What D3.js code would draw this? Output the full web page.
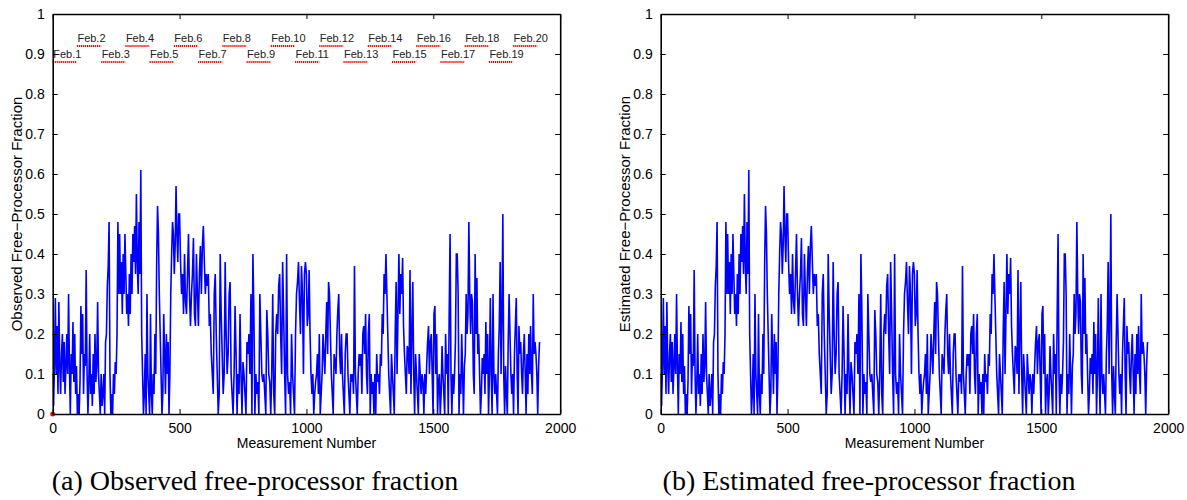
<!DOCTYPE html>
<html>
<head>
<meta charset="utf-8">
<script src="https://cdn.jsdelivr.net/npm/d3@7"></script>
<style>
  body { margin: 0; background: #fff; }
  svg text { font-family: "Liberation Sans", Arial, Helvetica, sans-serif; fill: #000; }
  .caption { font-family: "Liberation Serif", "Times New Roman", serif; font-size: 28px; }
  .tick text { font-size: 14px; }
</style>
</head>
<body>
<div class="chart"></div>
<script>
var seg1 = [0.1, 0.02, 0.12, 0.29, 0.1, 0.22, 0.05, 0.28, 0.12, 0.05, 0.15, 0.2, 0.08, 0.18, 0.05, 0.12, 0.2, 0.1, 0.3, 0.12,
  0.0, 0.15, 0.1, 0.23, 0.08, 0.2, 0.05, 0.12, 0.0, 0.05, 0.0, 0.08, 0.27, 0.15, 0.25, 0.05, 0.15, 0.12, 0.36, 0.1,
  0.0, 0.08, 0.2, 0.05, 0.1, 0.02, 0.15, 0.05, 0.2, 0.08, 0.12, 0.28, 0.1, 0.05, 0.0, 0.1, 0.02, 0.05, 0.1, 0.0,
  0.18, 0.2, 0.32, 0.37, 0.48, 0.1, 0.0, 0.05, 0.0, 0.1, 0.05, 0.13, 0.1, 0.2, 0.48, 0.3, 0.45, 0.3, 0.38, 0.25,
  0.4, 0.3, 0.45, 0.35, 0.25, 0.3, 0.22, 0.35, 0.25, 0.4, 0.3, 0.45, 0.38, 0.47, 0.35, 0.55, 0.38, 0.3, 0.48, 0.35,
  0.61, 0.2, 0.1, 0.0, 0.05, 0.15, 0.0, 0.3, 0.1, 0.05, 0.0, 0.25, 0.05, 0.0, 0.1, 0.05, 0.2, 0.1, 0.38, 0.52,
  0.45, 0.3, 0.2, 0.1, 0.0, 0.05, 0.25, 0.15, 0.05, 0.2, 0.1, 0.18, 0.0, 0.1, 0.3, 0.4, 0.48, 0.45, 0.35, 0.42,
  0.57, 0.45, 0.38, 0.5];
var seg2 = [0.5, 0.38, 0.3, 0.35, 0.25, 0.4, 0.28, 0.25, 0.35, 0.45, 0.3, 0.22, 0.3, 0.35, 0.44, 0.25, 0.22, 0.4, 0.3, 0.22,
  0.35, 0.42, 0.3, 0.42, 0.47, 0.38, 0.3, 0.35, 0.32, 0.35, 0.22, 0.25, 0.15, 0.1, 0.05, 0.3, 0.35, 0.2, 0.1, 0.0,
  0.05, 0.4, 0.25, 0.15, 0.05, 0.1, 0.38, 0.2, 0.1, 0.15, 0.3, 0.33, 0.1, 0.05, 0.0, 0.1, 0.27, 0.15, 0.0, 0.1,
  0.05, 0.25, 0.1, 0.0, 0.13, 0.1, 0.05, 0.0, 0.18, 0.15, 0.2, 0.1, 0.3, 0.0, 0.4, 0.25, 0.0, 0.1, 0.05, 0.08,
  0.0, 0.3, 0.2, 0.1, 0.08, 0.1, 0.05, 0.0, 0.26, 0.2, 0.1, 0.08, 0.0, 0.1, 0.3, 0.05, 0.0, 0.2, 0.25, 0.2,
  0.32, 0.35, 0.2, 0.1, 0.38, 0.25, 0.1, 0.0, 0.4, 0.1, 0.05, 0.08, 0.0, 0.2, 0.1, 0.05, 0.0, 0.2, 0.3, 0.33,
  0.38, 0.28, 0.2, 0.37, 0.3, 0.1, 0.35];
var seg3 = [0.38, 0.35, 0.22, 0.25, 0.36, 0.2, 0.1, 0.05, 0.1, 0.0, 0.05, 0.08, 0.1, 0.15, 0.05, 0.2, 0.0, 0.05, 0.1, 0.2,
  0.15, 0.1, 0.2, 0.28, 0.15, 0.33, 0.3, 0.2, 0.1, 0.05, 0.0, 0.15, 0.13, 0.1, 0.2, 0.26, 0.3, 0.15, 0.1, 0.2,
  0.1, 0.05, 0.0, 0.15, 0.2, 0.2, 0.1, 0.05, 0.0, 0.1, 0.08, 0.1, 0.05, 0.37, 0.1, 0.05, 0.0, 0.1, 0.15, 0.12,
  0.15, 0.05, 0.2, 0.22, 0.15, 0.25, 0.1, 0.05, 0.2, 0.25, 0.0, 0.1, 0.05, 0.08, 0.0, 0.1, 0.0, 0.15, 0.08, 0.1,
  0.05, 0.15, 0.12, 0.25, 0.2, 0.35, 0.3, 0.4, 0.3, 0.2, 0.1, 0.05, 0.0, 0.15, 0.1, 0.05, 0.0, 0.2, 0.33, 0.1,
  0.25, 0.4, 0.25, 0.35, 0.3, 0.39, 0.22, 0.15, 0.1, 0.05, 0.17, 0.16, 0.1, 0.36, 0.05, 0.2, 0.33, 0.1, 0.0, 0.15,
  0.1, 0.05, 0.0, 0.15, 0.1, 0.05, 0.1, 0.08, 0.0, 0.1, 0.05, 0.12, 0.18, 0.22, 0.1, 0.18];
var seg4 = [0.2, 0.1, 0.0, 0.25, 0.27, 0.1, 0.2, 0.0, 0.08, 0.1, 0.0, 0.05, 0.17, 0.1, 0.05, 0.0, 0.2, 0.1, 0.15, 0.0,
  0.25, 0.45, 0.1, 0.0, 0.1, 0.05, 0.1, 0.18, 0.4, 0.4, 0.3, 0.0, 0.1, 0.05, 0.2, 0.1, 0.0, 0.12, 0.15, 0.3,
  0.2, 0.25, 0.48, 0.3, 0.2, 0.3, 0.28, 0.1, 0.05, 0.4, 0.2, 0.34, 0.15, 0.2, 0.1, 0.0, 0.05, 0.14, 0.1, 0.15,
  0.05, 0.23, 0.1, 0.2, 0.0, 0.1, 0.29, 0.1, 0.0, 0.3, 0.1, 0.05, 0.1, 0.05, 0.0, 0.15, 0.22, 0.38, 0.1, 0.25,
  0.5, 0.1, 0.0, 0.12, 0.05, 0.0, 0.18, 0.3, 0.2, 0.1, 0.05, 0.1, 0.0, 0.15, 0.22, 0.29, 0.1, 0.0, 0.22, 0.15,
  0.18, 0.1, 0.05, 0.15, 0.2, 0.1, 0.0, 0.15, 0.05, 0.2, 0.1, 0.22, 0.1, 0.05, 0.3, 0.15, 0.18, 0.15, 0.1, 0.0,
  0.12, 0.18];
// measurement number where each chunk begins / ends
var segBounds = [0, 500, 996, 1492, 1922];

// day labels (alternate rows) and the level of their red markers
var days = ["Feb.1", "Feb.2", "Feb.3", "Feb.4", "Feb.5", "Feb.6", "Feb.7", "Feb.8", "Feb.9", "Feb.10",
  "Feb.11", "Feb.12", "Feb.13", "Feb.14", "Feb.15", "Feb.16", "Feb.17", "Feb.18", "Feb.19", "Feb.20"];
var dayLength = 95.5;
var dayLevels = [0.88, 0.92];

var xTicks = [0, 500, 1000, 1500, 2000];
var yTicks = [0, 0.1, 0.2, 0.3, 0.4, 0.5, 0.6, 0.7, 0.8, 0.9, 1];

var svgWidth = 1187;
var svgHeight = 500;

var svg = d3.select(".chart")
  .append("svg")
  .attr("width", svgWidth)
  .attr("height", svgHeight);

// stitch chunks into one series of {m, v}
var series = [];
[seg1, seg2, seg3, seg4].forEach(function(seg, k) {
  var step = (segBounds[k + 1] - segBounds[k]) / seg.length;
  seg.forEach(function(v, i) {
    series.push({ m: segBounds[k] + i * step, v: v });
  });
});

var width = 507.5;
var height = 400;

function drawPanel(left, yLabel, caption, captionX, showDays) {
  var g = svg.append("g").attr("transform", `translate(${left}, 14)`);

  var xScale = d3.scaleLinear().domain([0, 2000]).range([0, width]);
  var yScale = d3.scaleLinear().domain([0, 1]).range([height, 0]);

  g.append("clipPath").attr("id", "clip" + left)
    .append("rect").attr("width", width).attr("height", height);

  // the series
  var line = d3.line()
    .x(d => xScale(d.m))
    .y(d => yScale(d.v));

  g.append("path")
    .datum(series)
    .attr("clip-path", `url(#clip${left})`)
    .attr("fill", "none")
    .attr("stroke", "#0000ff")
    .attr("stroke-width", 1.6)
    .attr("stroke-linejoin", "miter")
    .attr("d", line);

  if (showDays) {
    days.forEach(function(day, i) {
      var lvl = dayLevels[i % 2];
      g.append("line")
        .attr("x1", xScale(i * dayLength))
        .attr("x2", xScale((i + 1) * dayLength))
        .attr("y1", yScale(lvl))
        .attr("y2", yScale(lvl))
        .attr("stroke", "#ff0000")
        .attr("stroke-width", 2.2)
        .attr("stroke-dasharray", "1.2,0.8");
      g.append("text")
        .attr("x", xScale(i * dayLength) + 0.5)
        .attr("y", yScale(lvl) - 4)
        .attr("font-size", "11px")
        .style("fill", "#222")
        .text(day);
    });

    g.append("circle")
      .attr("cx", xScale(0))
      .attr("cy", yScale(0))
      .attr("r", 2.5)
      .attr("fill", "#ff0000");
  }

  // axes, ticks pointing inwards like matlab
  g.append("g")
    .attr("transform", `translate(0, ${height})`)
    .call(d3.axisBottom(xScale).tickValues(xTicks).tickSize(-5).tickSizeOuter(0).tickPadding(9)
      .tickFormat(d3.format("d")));
  g.append("g")
    .call(d3.axisTop(xScale).tickValues(xTicks).tickSize(-5).tickSizeOuter(0).tickFormat(""));
  g.append("g")
    .call(d3.axisLeft(yScale).tickValues(yTicks).tickSize(-5).tickSizeOuter(0).tickPadding(8)
      .tickFormat(d => d === 0 || d === 1 ? d : d3.format(".1f")(d)));
  g.append("g")
    .attr("transform", `translate(${width}, 0)`)
    .call(d3.axisRight(yScale).tickValues(yTicks).tickSize(-5).tickSizeOuter(0).tickFormat(""));

  g.selectAll(".domain").attr("stroke", "#000").attr("stroke-width", 1.6);
  g.selectAll(".tick line").attr("stroke", "#000");

  // axis labels
  g.append("text")
    .attr("x", width / 2)
    .attr("y", height + 34)
    .attr("text-anchor", "middle")
    .attr("font-size", "14px")
    .text("Measurement Number");

  g.append("text")
    .attr("transform", "rotate(-90)")
    .attr("x", -height / 2)
    .attr("y", -31)
    .attr("text-anchor", "middle")
    .attr("font-size", "15px")
    .text(yLabel);

  svg.append("text")
    .attr("class", "caption")
    .attr("x", captionX)
    .attr("y", 490)
    .attr("text-anchor", "middle")
    .text(caption);
}

drawPanel(52.7, "Observed Free\u2212Processor Fraction", "(a) Observed free-processor fraction", 255, true);
drawPanel(660.7, "Estimated Free\u2212Processor Fraction", "(b) Estimated free-processor fraction", 869, false);
</script>
</body>
</html>
